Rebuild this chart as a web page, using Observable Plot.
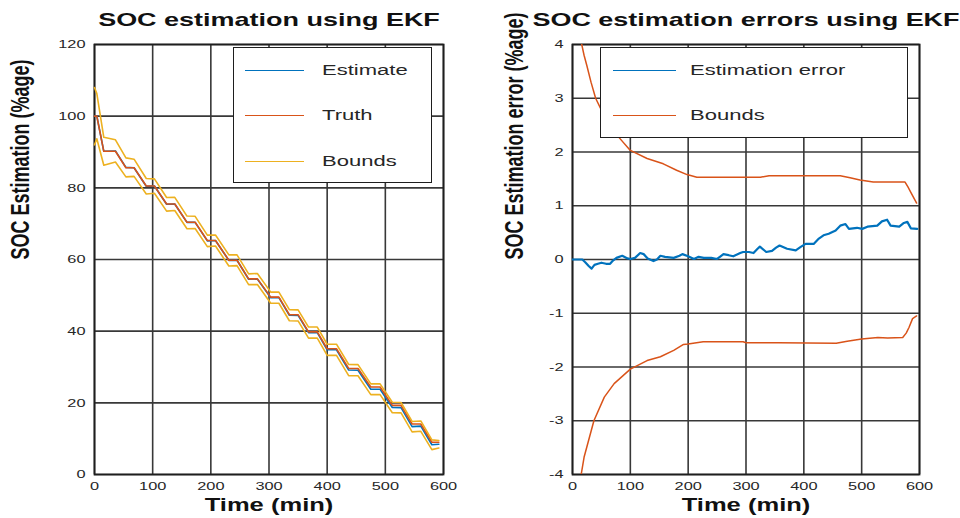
<!DOCTYPE html>
<html><head><meta charset="utf-8">
<script src="https://cdn.jsdelivr.net/npm/d3@7"></script>
<script src="https://cdn.jsdelivr.net/npm/@observablehq/plot@0.6"></script>
<style>
body{margin:0;background:#fff}
#wrap{position:relative;width:960px;height:518px;font-family:"Liberation Sans",Arial,sans-serif;overflow:hidden}
.panel{position:absolute;top:0}
.legend{position:absolute;background:#fff;border:1.6px solid #1e1e1e;box-sizing:border-box}
.sw{position:absolute;height:0;border-top:1.5px solid}
.lt{position:absolute;font-size:15.5px;color:#262626;transform:scaleX(1.42);transform-origin:left center;white-space:nowrap;line-height:16px;margin-top:-8px}
</style>
</head><body>
<div id="wrap"></div>
<script>
// ---------- Left panel data: SOC estimation (%) vs time (min) ----------
const truthT = [0,4,16,36,54,68,89,103,124,138,159,173,194,208,231,245,265,280,303,317,335,350,368,383,400,416,437,453,475,491,512,527,546,561,580,592];
const truthV = [100,100,90.2,90.2,85.6,85.6,80.5,80.5,75.5,75.5,70.4,70.4,65.3,65.3,59.8,59.8,54.6,54.6,49.5,49.5,44.6,44.6,39.8,39.8,35.1,35.1,29.6,29.6,24.4,24.4,19.3,19.3,14.1,14.1,9.0,9.0];
const estimateV = [100,100,90.2,90.3,85.7,85.6,80.45,80.5,75.4,75.5,70.35,70.35,65.2,65.3,59.75,59.8,54.5,54.55,49.35,49.35,44.45,44.4,39.6,39.6,34.8,34.8,29.15,29.1,23.8,23.8,18.7,18.65,13.35,13.5,8.3,8.45];
const upperV = [108,106.3,94.1,93.4,88.35,88.0,82.6,82.5,77.3,77.34,72.12,72.05,66.8,66.85,61.3,61.3,56.0,56.1,50.9,50.9,46.0,45.95,41.15,41.15,36.35,36.36,30.7,30.65,25.3,25.3,20.15,20.1,14.8,14.95,9.65,9.5];
const lowerV = [92,93.7,86.3,87.2,83.05,83.2,78.3,78.5,73.5,73.66,68.58,68.65,63.6,63.75,58.2,58.3,53.0,53.0,47.8,47.8,42.9,42.85,38.05,38.05,33.25,33.24,27.6,27.55,22.3,22.3,17.25,17.2,11.9,12.05,6.95,7.4];

// ---------- Right panel data: SOC estimation error (%) vs time (min) ----------
const errT = [0,10,17,22,28,33,38,44,50,58,65,70,76,86,95,100,108,117,123,130,140,146,152,160,175,185,190,200,210,218,227,240,250,256,261,270,278,290,295,305,313,320,324,335,345,352,358,371,386,394,403,417,426,434,443,455,463,472,478,492,501,510,527,535,544,550,565,573,579,585,596];
const errV = [0,0,0,-0.05,-0.12,-0.17,-0.1,-0.08,-0.06,-0.08,-0.08,-0.02,0.03,0.07,0.02,0.01,0.03,0.12,0.1,0.02,-0.03,0,0.07,0.05,0.03,0.07,0.1,0.06,0.01,0.05,0.03,0.03,0.01,0.06,0.1,0.08,0.06,0.12,0.14,0.14,0.12,0.2,0.24,0.14,0.16,0.22,0.26,0.2,0.17,0.23,0.29,0.29,0.39,0.45,0.48,0.54,0.63,0.66,0.57,0.59,0.57,0.61,0.63,0.71,0.74,0.63,0.61,0.68,0.7,0.58,0.57];
const boundUpT = [0,5,10,15,20,25,32,40,50,60,78,100,129,157,180,198,215,325,340,463,480,497,520,575,580,585,595];
const boundUpV = [8,6,4.8,4.05,3.8,3.6,3.3,3.0,2.78,2.6,2.3,2.03,1.88,1.78,1.66,1.58,1.53,1.53,1.56,1.56,1.52,1.48,1.44,1.44,1.35,1.25,1.05];
const boundLoT = [0,5,10,15,20,37,55,72,100,129,152,175,192,200,226,295,300,356,456,475,500,528,545,571,577,582,588,595];
const boundLoV = [-8,-6,-4.8,-4.0,-3.68,-3.0,-2.56,-2.31,-2.04,-1.88,-1.81,-1.69,-1.58,-1.57,-1.53,-1.53,-1.55,-1.55,-1.56,-1.52,-1.48,-1.45,-1.46,-1.45,-1.37,-1.26,-1.1,-1.05];

// ---------- Ticks & texts ----------
const xTicks = [0,100,200,300,400,500,600];
const yTicksL = [0,20,40,60,80,100,120];
const yTicksR = [-4,-3,-2,-1,0,1,2,3,4];
const titleL = "SOC estimation using EKF";
const titleR = "SOC estimation errors using EKF";
const xLabel = "Time (min)";
const yLabelL = "SOC Estimation (%age)";
const yLabelR = "SOC Estimation error (%age)";
const legendL = ["Estimate","Truth","Bounds"];
const legendR = ["Estimation error","Bounds"];

const C_BLUE = "#0072BD", C_RED = "#D95319", C_YEL = "#EDB120";
const GRID = "#383838";
const STRETCH = 1.42;

const rec = (T, V) => T.map((t, i) => ({t, v: V[i]}));
const fmt = d => String(d);

function frameMarks(yTicks, title, ylab, ylabDx) {
  return [
    Plot.gridX(xTicks, {stroke: GRID, strokeOpacity: 1, strokeWidth: 1.6}),
    Plot.gridY(yTicks, {stroke: GRID, strokeOpacity: 1, strokeWidth: 1.6}),
    Plot.frame({stroke: "#1e1e1e", strokeWidth: 1.8}),
    Plot.axisX(xTicks, {tickSize: 0, tickPadding: 7, tickFormat: fmt, fill: "#262626"}),
    Plot.axisY(yTicks, {tickSize: 0, tickPadding: 9, tickFormat: fmt, fill: "#262626"}),
    Plot.text([title], {text: d => d, frameAnchor: "top", lineAnchor: "middle", dy: -25, fontSize: 19, fontWeight: "bold", fill: "#111"}),
    Plot.text([xLabel], {text: d => d, frameAnchor: "bottom", lineAnchor: "middle", dy: 31, fontSize: 18, fontWeight: "bold", fill: "#111"}),
    Plot.text([ylab], {text: d => d, frameAnchor: "left", dx: ylabDx, rotate: -90, fontSize: 18, fontWeight: "bold", fill: "#111"})
  ];
}

const common = {
  width: 480, height: 518, marginTop: 44, marginBottom: 44,
  style: {fontFamily: "'Liberation Sans', Arial, sans-serif", fontSize: "11.5px", color: "#262626", background: "transparent", overflow: "visible"}
};

const left = Plot.plot({
  ...common, marginLeft: 94, marginRight: 37,
  x: {domain: [0, 600], label: null},
  y: {domain: [0, 120], label: null},
  marks: [
    ...frameMarks(yTicksL, titleL, yLabelL, -74),
    Plot.line(rec(truthT, estimateV), {x: "t", y: "v", stroke: C_BLUE, strokeWidth: 1.6}),
    Plot.line(rec(truthT, truthV), {x: "t", y: "v", stroke: C_RED, strokeWidth: 1.6}),
    Plot.line(rec(truthT, upperV), {x: "t", y: "v", stroke: C_YEL, strokeWidth: 1.6}),
    Plot.line(rec(truthT, lowerV), {x: "t", y: "v", stroke: C_YEL, strokeWidth: 1.6})
  ]
});

const right = Plot.plot({
  ...common, marginLeft: 92, marginRight: 41,
  x: {domain: [0, 600], label: null},
  y: {domain: [-4, 4], label: null},
  marks: [
    ...frameMarks(yTicksR, titleR, yLabelR, -58),
    Plot.line(rec(errT, errV), {x: "t", y: "v", stroke: C_BLUE, strokeWidth: 2.2, clip: true}),
    Plot.line(rec(boundUpT, boundUpV), {x: "t", y: "v", stroke: C_RED, strokeWidth: 1.5, clip: true}),
    Plot.line(rec(boundLoT, boundLoV), {x: "t", y: "v", stroke: C_RED, strokeWidth: 1.5, clip: true})
  ]
});

const wrap = document.getElementById("wrap");
left.classList.add("panel"); left.style.left = "0px";
right.classList.add("panel"); right.style.left = "480px";
wrap.appendChild(left); wrap.appendChild(right);

// horizontally stretched text, as in the reference image
function stretchTexts(svg, k) {
  svg.querySelectorAll("text").forEach(el => {
    let t = el.getAttribute("transform") || "";
    const rot = /rotate\(/.test(t);
    const x = el.getAttribute("x");
    if (!rot && x !== null && isFinite(+x)) {
      t += ` translate(${+x},0)`;
      el.setAttribute("x", 0);
    }
    el.setAttribute("transform", t + (rot ? ` scale(1,${k})` : ` scale(${k},1)`));
  });
}
stretchTexts(left, STRETCH);
stretchTexts(right, STRETCH);

function legend(box, items, colors, rowsY, lineX, textX) {
  const d = document.createElement("div");
  d.className = "legend";
  Object.assign(d.style, {left: box[0] + "px", top: box[1] + "px", width: box[2] + "px", height: box[3] + "px"});
  items.forEach((name, i) => {
    const s = document.createElement("div");
    s.className = "sw";
    Object.assign(s.style, {left: lineX[0] + "px", width: (lineX[1] - lineX[0]) + "px", top: rowsY[i] + "px", borderTopColor: colors[i]});
    d.appendChild(s);
    const t = document.createElement("div");
    t.className = "lt";
    t.textContent = name;
    Object.assign(t.style, {left: textX + "px", top: rowsY[i] + "px"});
    d.appendChild(t);
  });
  wrap.appendChild(d);
}
legend([233, 47, 199, 136], legendL, [C_BLUE, C_RED, C_YEL], [22, 67, 112.5], [11, 70], 88);
legend([600, 47, 308, 91], legendR, [C_BLUE, C_RED], [22, 67], [12, 75], 89);
</script>
</body></html>
